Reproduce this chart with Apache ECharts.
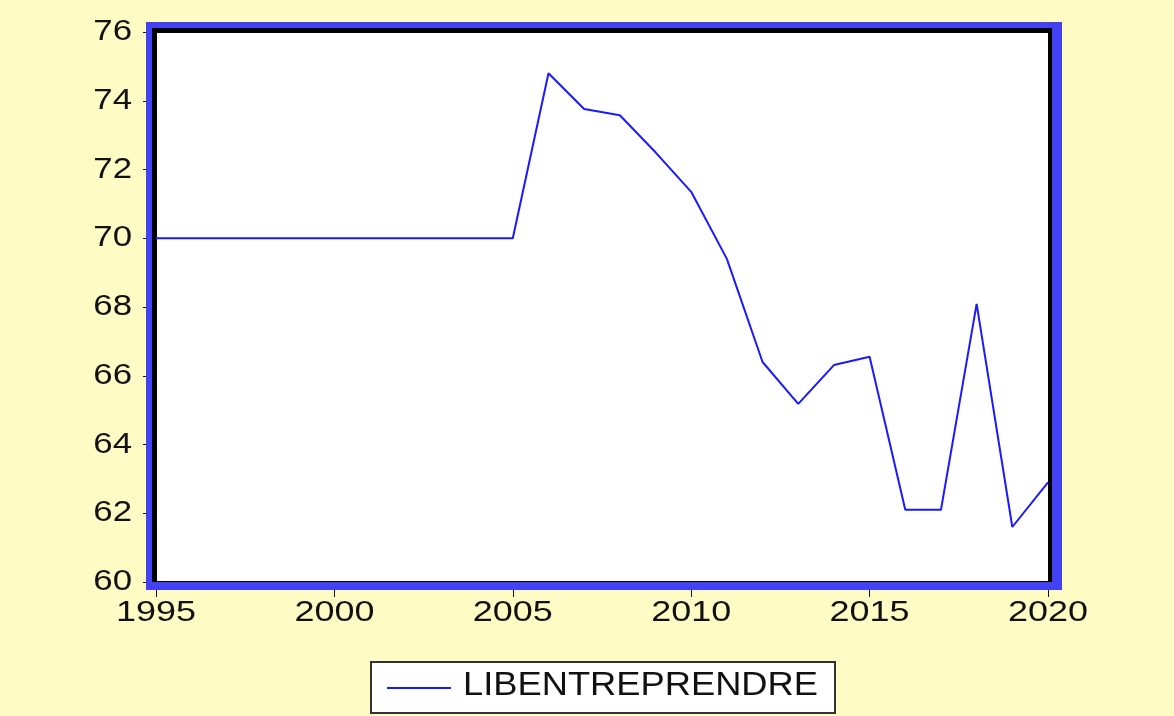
<!DOCTYPE html>
<html><head><meta charset="utf-8">
<script src="https://cdn.jsdelivr.net/npm/echarts@6/dist/echarts.min.js"></script>
<style>html,body{margin:0;padding:0;background:#fffbc4;}#c{width:1174px;height:716px;}</style>
</head><body><div id="c"></div>
<script>
const seriesName = 'LIBENTREPRENDRE';
const years = [1995,1996,1997,1998,1999,2000,2001,2002,2003,2004,2005,2006,2007,2008,2009,2010,2011,2012,2013,2014,2015,2016,2017,2018,2019,2020];
const values = [70,70,70,70,70,70,70,70,70,70,70,74.8,73.76,73.58,72.5,71.35,69.4,66.4,65.18,66.31,66.55,62.1,62.1,68.09,61.6,62.9];
const xTicks = [1995,2000,2005,2010,2015,2020];
const yTicks = [60,62,64,66,68,70,72,74,76];

const chart = echarts.init(document.getElementById('c'), null, {renderer:'canvas'});
const fontFam = '"Liberation Sans", Arial, sans-serif';
const lineColor = '#1a1aff';
const frame = [
  {type:'rect', z:-10, shape:{x:146,y:22,width:916,height:568}, style:{fill:'#4242f2'}},
  {type:'rect', z:-9, shape:{x:152,y:28,width:900,height:554}, style:{fill:'#000000'}},
  {type:'rect', z:-8, shape:{x:157,y:33,width:891,height:548}, style:{fill:'#ffffff'}}
];
chart.setOption({
  backgroundColor: '#fffbc4',
  animation: false,
  grid: {left:156, right:126, top:32, bottom:134},
  graphic: frame,
  xAxis: {
    type:'value', min:1995, max:2020, interval:5, offset:8,
    axisLine:{show:false},
    axisTick:{show:true, length:7, lineStyle:{color:'#111', width:1}},
    splitLine:{show:false},
    axisLabel:{show:false}
  },
  yAxis: {
    type:'value', min:60, max:76, interval:2, offset:10,
    axisLine:{show:false},
    axisTick:{show:true, length:3, lineStyle:{color:'#111', width:1}},
    splitLine:{show:false},
    axisLabel:{show:false}
  },
  series: [{
    name: seriesName, type:'line', symbol:'none', z:5,
    lineStyle:{color:lineColor, width:2},
    itemStyle:{color:lineColor},
    data: years.map((y,i)=>[y, values[i]])
  }]
});

// Stretched text labels (reference text is horizontally stretched)
const labels = [];
xTicks.forEach(v => {
  const px = chart.convertToPixel({xAxisIndex:0}, v);
  labels.push({type:'text', z:10, x:px, y:613, scaleX:1.24,
    style:{text:String(v), font:'29px ' + fontFam, fill:'#111',
      textAlign:'center', align:'center', textVerticalAlign:'middle', verticalAlign:'middle'}});
});
yTicks.forEach(v => {
  const py = chart.convertToPixel({yAxisIndex:0}, v);
  labels.push({type:'text', z:10, x:132, y:py, scaleX:1.2,
    style:{text:String(v), font:'29px ' + fontFam, fill:'#111',
      textAlign:'right', align:'right', textVerticalAlign:'middle', verticalAlign:'middle'}});
});
// Legend box
labels.push({type:'rect', z:10, shape:{x:371,y:662,width:464,height:51},
  style:{fill:'#ffffff', stroke:'#333333', lineWidth:2}});
labels.push({type:'line', z:11, shape:{x1:387,y1:688,x2:451,y2:688},
  style:{stroke:lineColor, lineWidth:2}});
labels.push({type:'text', z:11, x:463, y:686, scaleX:1.1,
  style:{text:seriesName, font:'33px ' + fontFam, fill:'#111',
    textAlign:'left', align:'left', textVerticalAlign:'middle', verticalAlign:'middle'}});

chart.setOption({graphic: frame.concat(labels)});
</script></body></html>
